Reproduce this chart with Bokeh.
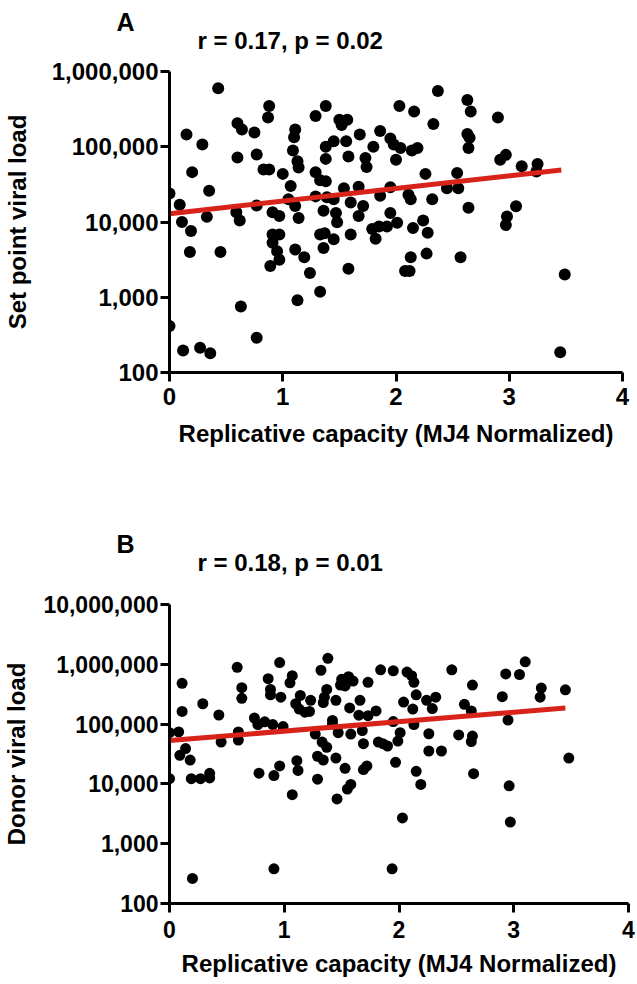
from bokeh.plotting import figure
from bokeh.layouts import column
from bokeh.models import Range1d, FixedTicker, NumeralTickFormatter, Title
from bokeh.embed import file_html
from bokeh.resources import INLINE

# ---------------- data ----------------
# Panel A: set point viral load vs replicative capacity
a_x = [0.43, 0.15, 0.29, 0.20, 0.00, 0.09, 0.11, 0.19, 0.18, 0.35, 0.33, 0.45, 0.00, 0.12, 0.27, 0.36,
       0.63, 0.77, 0.60, 0.64, 0.75, 0.60, 0.77, 0.88, 0.87, 0.83, 0.88, 1.00, 1.07, 1.11, 1.10, 1.09,
       1.13, 1.14, 0.59, 0.62, 0.77, 0.91, 0.97, 1.05, 1.11, 1.14, 0.91, 0.97, 0.91, 0.95, 0.97, 0.89,
       1.11, 1.19, 1.24, 1.13,
       1.38, 1.29, 1.50, 1.57, 1.52, 1.68, 1.56, 1.45, 1.38, 1.38, 1.58, 1.73, 1.74, 1.80, 1.86, 1.95,
       1.98, 2.04, 2.00, 2.03, 2.16, 2.14, 2.19, 2.37, 2.33, 2.26, 2.54, 2.45, 2.55, 1.29, 1.33, 1.38,
       1.29, 1.39, 1.45, 1.54, 1.67, 1.60, 1.36, 1.47, 1.48, 1.71, 1.67, 1.86, 1.95, 1.95, 2.11, 2.13,
       2.32, 2.01, 1.92, 1.85, 1.79, 1.82, 2.15, 2.24, 2.28, 1.33, 1.37, 1.45, 1.36, 1.60, 1.33, 1.58,
       2.13, 2.08, 2.12, 2.27, 2.57,
       2.63, 2.66, 2.90, 2.63, 2.65, 2.64, 2.92, 2.97, 3.11, 3.25, 3.24, 2.64, 3.06, 2.98, 2.97, 3.49,
       3.45]
a_y = [600000, 145000, 107000, 46000, 24000, 17000, 10000, 7600, 4000, 26000, 11700, 4000, 415, 196, 213, 180,
       755, 290, 205000, 170000, 155000, 72000, 79000, 347000, 245000, 50000, 50000, 43600, 30000, 170000, 134000, 89000,
       64000, 53000, 13500, 10500, 16600, 13500, 12000, 20000, 16300, 11300, 6800, 6800, 5300, 4100, 3160, 2600,
       4300, 3400, 2100, 910,
       347000, 257000, 229000, 229000, 195000, 145000, 118000, 118000, 100000, 69000, 74000, 71000, 54000, 100000, 162000, 129000,
       107000, 96000, 67000, 347000, 295000, 89000, 96000, 550000, 200000, 43600, 44700, 28000, 28000, 45700, 36000, 34700,
       21900, 21400, 20000, 28000, 29500, 18200, 14100, 13200, 9900, 16300, 12000, 22400, 29000, 13200, 23000, 20000,
       20000, 9800, 8700, 8700, 8100, 6000, 8300, 10500, 7200, 6800, 7100, 5900, 4500, 6800, 1180, 2400,
       3400, 2240, 2240, 3800, 3400,
       417000, 295000, 245000, 148000, 132000, 96000, 67000, 78000, 55000, 59000, 47000, 15500, 16200, 11800, 9100, 2000,
       186]
a_fit_x = [0.0, 3.46]
a_fit_y = [12900, 49000]

# Panel B: donor viral load vs replicative capacity
b_x = [0.59, 0.11, 0.11, 0.29, 0.43, 0.63, 0.63, 0.96, 0.86, 0.88, 0.88, 0.97, 1.07, 1.05, 1.14, 1.10,
       1.13, 1.18, 0.00, 0.08, 0.14, 0.09, 0.18, 0.00, 0.19, 0.27, 0.35, 0.35, 0.45, 0.60, 0.60, 0.74,
       0.77, 0.83, 0.90, 0.99, 0.78, 0.91, 0.96, 1.11, 1.12, 1.07, 0.20, 0.91,
       1.38, 1.32, 1.50, 1.56, 1.60, 1.49, 1.53, 1.73, 1.84, 1.95, 2.07, 2.11, 2.13, 2.46, 1.37, 1.35,
       1.23, 1.34, 1.45, 1.66, 1.57, 1.65, 1.73, 1.80, 2.04, 2.15, 2.12, 2.24, 2.32, 2.29, 1.22, 1.42,
       1.42, 1.27, 1.47, 1.58, 1.68, 1.69, 1.95, 2.01, 1.99, 1.90, 1.82, 1.86, 2.13, 2.26, 2.26, 2.37,
       2.52, 1.33, 1.37, 1.29, 1.34, 1.45, 1.53, 1.72, 1.69, 1.97, 2.15, 2.19, 1.29, 1.58, 1.55, 1.46,
       2.03, 1.94,
       3.10, 2.93, 3.05, 2.64, 3.24, 3.23, 3.45, 2.90, 2.57, 2.63, 2.95, 2.64, 2.63, 3.48, 2.65, 2.96,
       2.97]
b_y = [890000, 480000, 163000, 219000, 142000, 407000, 270000, 1070000, 575000, 380000, 309000, 282000, 645000, 490000, 302000, 219000,
       178000, 158000, 72000, 74000, 39000, 30000, 25000, 12200, 12200, 12200, 15000, 12600, 50000, 74000, 54000, 126000,
       98000, 109000, 98000, 91000, 15100, 13800, 20000, 24500, 16800, 6600, 263, 380,
       1260000, 795000, 560000, 620000, 525000, 450000, 435000, 500000, 810000, 780000, 740000, 645000, 500000, 810000, 380000, 282000,
       250000, 229000, 250000, 250000, 186000, 141000, 138000, 166000, 234000, 309000, 178000, 250000, 282000, 182000, 163000, 115000,
       100000, 68000, 72000, 68000, 78000, 47000, 110000, 72000, 52000, 43000, 50000, 47000, 98000, 69000, 35500, 35500,
       66000, 50000, 41000, 29000, 25000, 27000, 18200, 20000, 17400, 23000, 16200, 9800, 12000, 9800, 8200, 5600,
       2700, 380,
       1100000, 690000, 675000, 450000, 400000, 282000, 375000, 288000, 214000, 166000, 117000, 63000, 51000, 27000, 14800, 9300,
       2300]
b_fit_x = [0.0, 3.45]
b_fit_y = [53000, 186000]

x_ticks = [0, 1, 2, 3, 4]
a_y_ticks = [100, 1000, 10000, 100000, 1000000]
b_y_ticks = [100, 1000, 10000, 100000, 1000000, 10000000]

FONT = "Liberation Sans"
LAB_FS = "24px"


def panel(letter, stat, ylabel, xs, ys, fx, fy, yticks, frame_w, frame_h,
          top, bottom, right, dot, tick_fs, ylab_so, xtick_so, xlab_so,
          stat_so, letter_so):
    p = figure(frame_width=frame_w, frame_height=frame_h,
               y_axis_type="log",
               x_range=Range1d(0, 4), y_range=Range1d(yticks[0], yticks[-1]),
               min_border_left=161, min_border_right=right,
               min_border_top=top, min_border_bottom=bottom,
               output_backend="svg", toolbar_location=None,
               background_fill_color="white", border_fill_color="white")
    p.outline_line_color = None
    p.grid.visible = False

    p.scatter(xs, ys, size=dot, marker="circle", fill_color="black", line_color=None)
    p.line(fx, fy, line_color="#d8231a", line_width=5)

    for ax in (p.xaxis[0], p.yaxis[0]):
        ax.axis_line_width = 3
        ax.axis_line_color = "black"
        ax.major_tick_line_width = 3
        ax.major_tick_line_color = "black"
        ax.major_tick_out = 9
        ax.major_tick_in = 0
        ax.minor_tick_line_color = None
        ax.major_label_text_font = FONT
        ax.major_label_text_font_size = tick_fs
        ax.major_label_text_font_style = "bold"
        ax.major_label_text_color = "black"
        ax.axis_label_text_font = FONT
        ax.axis_label_text_font_size = LAB_FS
        ax.axis_label_text_font_style = "bold"
        ax.axis_label_text_color = "black"

    p.xaxis.ticker = FixedTicker(ticks=x_ticks)
    p.xaxis.major_label_standoff = xtick_so
    p.xaxis.axis_label = "Replicative capacity (MJ4 Normalized)"
    p.xaxis.axis_label_standoff = xlab_so

    p.yaxis.ticker = FixedTicker(ticks=yticks)
    p.yaxis.formatter = NumeralTickFormatter(format="0,0")
    p.yaxis.major_label_standoff = 2
    p.yaxis.axis_label = ylabel
    p.yaxis.axis_label_standoff = ylab_so

    p.add_layout(Title(text=stat, align="left", offset=28, standoff=stat_so,
                       text_font=FONT, text_font_size=LAB_FS,
                       text_font_style="bold", text_color="black"), "above")
    p.add_layout(Title(text=letter, align="left", offset=-53, standoff=letter_so,
                       text_font=FONT, text_font_size="25px",
                       text_font_style="bold", text_color="black"), "above")
    return p


pA = panel("A", "r = 0.17, p = 0.02", "Set point viral load",
           a_x, a_y, a_fit_x, a_fit_y, a_y_ticks, 453, 301, 71, 108, 14, 12,
           "24px", 18, 6, 12, 36, -59)
pB = panel("B", "r = 0.18, p = 0.01", "Donor viral load",
           b_x, b_y, b_fit_x, b_fit_y, b_y_ticks, 459, 299, 124, 65, 8, 11,
           "23px", 10, 8, 9, 58, -80)

layout = column(pA, pB, spacing=0)
open("out.html", "w").write(file_html(layout, INLINE))
